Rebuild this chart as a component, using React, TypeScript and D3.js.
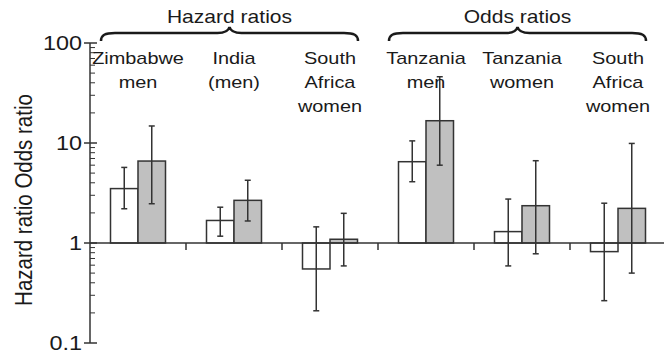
import React from "react";
import * as d3 from "d3";

// categories, in the order they appear along the x axis
const categories = ["zim", "india", "saHR", "tzMen", "tzWomen", "saOR"];
const categoryLines = [
  ["Zimbabwe", "men"],
  ["India", "(men)"],
  ["South", "Africa", "women"],
  ["Tanzania", "men"],
  ["Tanzania", "women"],
  ["South", "Africa", "women"],
];

// white bars (first estimate) with their confidence intervals
const whiteValues = [3.5, 1.68, 0.55, 6.5, 1.3, 0.82];
const whiteLow = [2.2, 1.17, 0.21, 4.1, 0.59, 0.265];
const whiteHigh = [5.7, 2.28, 1.45, 10.5, 2.75, 2.5];

// grey bars (second estimate)
const greyValues = [6.6, 2.67, 1.09, 16.7, 2.36, 2.22];
const greyLow = [2.47, 1.66, 0.59, 6.0, 0.78, 0.5];
const greyHigh = [14.8, 4.24, 1.98, 46, 6.65, 9.9];

// brace groups over the categories
const groupLabels = ["Hazard ratios", "Odds ratios"];
const groupFirst = ["zim", "tzMen"];
const groupLast = ["saHR", "saOR"];

const yTicks = [0.1, 1, 10, 100];
const yTickLabels = ["0.1", "1", "10", "100"];

const W = 664;
const H = 356;
const FONT = "'Liberation Sans', Arial, sans-serif";
const INK = "#1a1a1a";
const LINE = "#333";
const SX = 1.17; // the reference is stretched a bit sideways

const x = d3.scaleBand<string>().domain(categories).range([90, 666]);
const inner = d3.scaleBand<string>().domain(["white", "grey"]).range([20.5, 75.5]);
const y = d3.scaleLog().domain([0.1, 100]).range([343, 43]);

// minor ticks between decades
const minorTicks = y.ticks().filter((t) => !yTicks.includes(t));

const Txt = ({ tx, ty, size, anchor = "middle", children }: any) => (
  <text
    transform={`translate(${tx},${ty}) scale(${SX},1)`}
    fontSize={size}
    fontFamily={FONT}
    fill={INK}
    textAnchor={anchor}
  >
    {children}
  </text>
);

const brace = (x0: number, x1: number) => {
  const mid = (x0 + x1) / 2;
  const p = d3.path();
  p.moveTo(x0, 41);
  p.bezierCurveTo(x0, 35, x0 + 4, 33, x0 + 14, 33);
  p.lineTo(mid - 12, 33);
  p.bezierCurveTo(mid - 4, 33, mid - 1, 31, mid, 27);
  p.bezierCurveTo(mid + 1, 31, mid + 4, 33, mid + 12, 33);
  p.lineTo(x1 - 14, 33);
  p.bezierCurveTo(x1 - 4, 33, x1, 35, x1, 41);
  return p.toString();
};

const App = () => {
  const bw = inner.bandwidth();
  const series = [
    { key: "white", fill: "#ffffff", v: whiteValues, lo: whiteLow, hi: whiteHigh },
    { key: "grey", fill: "#c0c0c0", v: greyValues, lo: greyLow, hi: greyHigh },
  ];

  return (
    <svg
      width={W}
      height={H}
      style={{ position: "absolute", left: 0, top: 0, background: "#fff" }}
    >
      {/* bars */}
      {series.map((s) =>
        categories.map((c, i) => {
          const x0 = (x(c) as number) + (inner(s.key) as number);
          const yv = y(s.v[i]);
          const y1 = y(1);
          return (
            <rect
              key={s.key + c}
              x={x0}
              y={Math.min(yv, y1)}
              width={bw}
              height={Math.abs(yv - y1)}
              fill={s.fill}
              stroke={LINE}
              strokeWidth={1.5}
            />
          );
        })
      )}

      {/* baseline at 1 and category ticks */}
      <line x1={90} x2={664} y1={y(1)} y2={y(1)} stroke={LINE} strokeWidth={1.5} />
      {categories.slice(1).map((c) => (
        <line
          key={"ct" + c}
          x1={x(c)}
          x2={x(c)}
          y1={y(1)}
          y2={y(1) + 7}
          stroke={LINE}
          strokeWidth={1.5}
        />
      ))}

      {/* error bars */}
      {series.map((s) =>
        categories.map((c, i) => {
          const cx = (x(c) as number) + (inner(s.key) as number) + bw / 2;
          return (
            <g key={"e" + s.key + c} stroke={LINE} strokeWidth={1.5}>
              <line x1={cx} x2={cx} y1={y(s.lo[i])} y2={y(s.hi[i])} />
              <line x1={cx - 3} x2={cx + 3} y1={y(s.lo[i])} y2={y(s.lo[i])} />
              <line x1={cx - 3} x2={cx + 3} y1={y(s.hi[i])} y2={y(s.hi[i])} />
            </g>
          );
        })
      )}

      {/* y axis */}
      <line x1={90} x2={90} y1={y(100)} y2={y(0.1)} stroke={LINE} strokeWidth={1.5} />
      {yTicks.map((t, i) => (
        <g key={"yt" + t}>
          <line x1={84} x2={97} y1={y(t)} y2={y(t)} stroke={LINE} strokeWidth={1.5} />
          <Txt tx={82} ty={y(t) + 7} size={20} anchor="end">
            {yTickLabels[i]}
          </Txt>
        </g>
      ))}
      {minorTicks.map((t) => (
        <line key={"mt" + t} x1={90} x2={95} y1={y(t)} y2={y(t)} stroke={LINE} strokeWidth={1} />
      ))}

      {/* y axis title */}
      <text
        transform={`translate(32,200) scale(${SX},1) rotate(-90)`}
        fontSize={20.5}
        fontFamily={FONT}
        fill={INK}
        textAnchor="middle"
      >
        Hazard ratio Odds ratio
      </text>

      {/* category labels */}
      {categories.map((c, i) =>
        categoryLines[i].map((line, j) => (
          <Txt key={"cl" + c + j} tx={(x(c) as number) + x.bandwidth() / 2} ty={64 + j * 24} size={17}>
            {line}
          </Txt>
        ))
      )}

      {/* braces and group labels */}
      {groupLabels.map((g, i) => {
        const x0 = (x(groupFirst[i]) as number) + 11;
        const x1 = (x(groupLast[i]) as number) + x.bandwidth() - 20;
        return (
          <g key={"g" + g}>
            <path d={brace(x0, x1)} fill="none" stroke={INK} strokeWidth={2.5} />
            <Txt tx={(x0 + x1) / 2} ty={23} size={18}>
              {g}
            </Txt>
          </g>
        );
      })}
    </svg>
  );
};

export default App;
